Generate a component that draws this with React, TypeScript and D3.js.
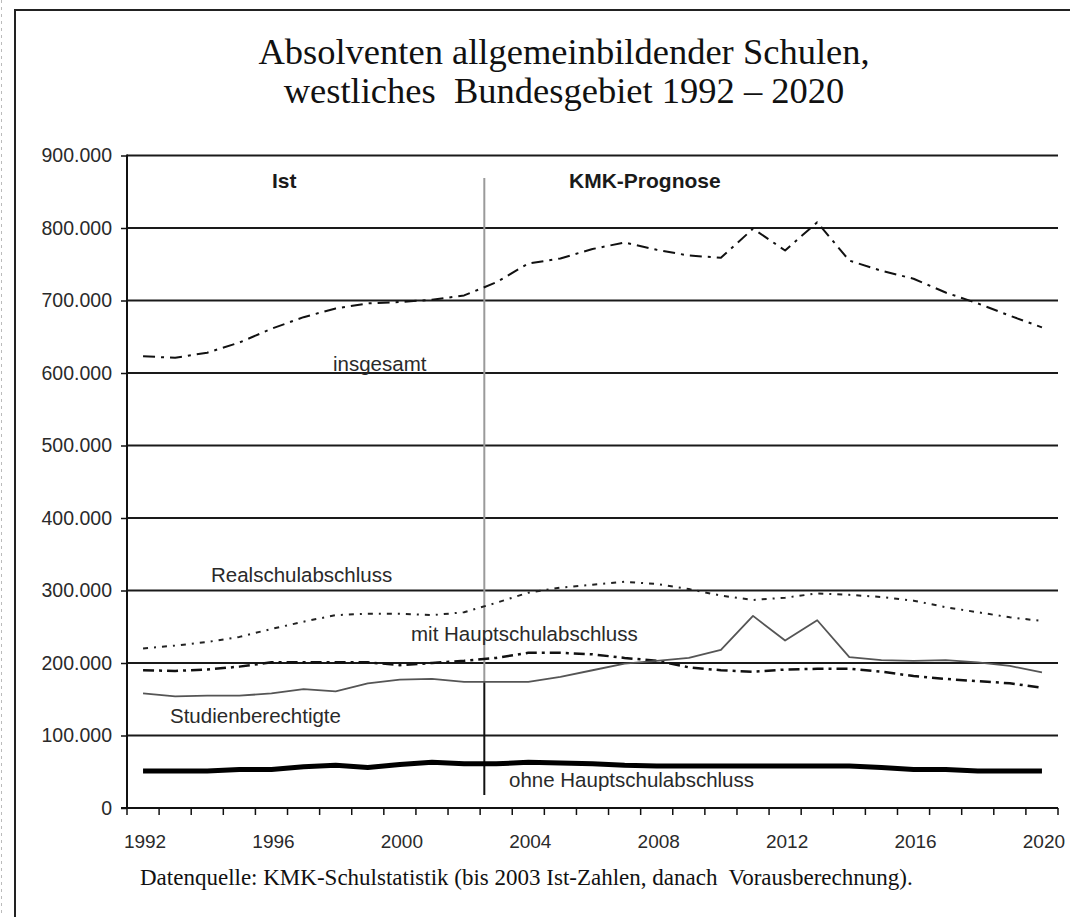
import React, { useEffect, useRef } from "react";
import * as d3 from "d3";

// categories
const years = [
  1992, 1993, 1994, 1995, 1996, 1997, 1998, 1999, 2000, 2001, 2002, 2003, 2004, 2005, 2006,
  2007, 2008, 2009, 2010, 2011, 2012, 2013, 2014, 2015, 2016, 2017, 2018, 2019, 2020,
];

// series (Absolventen)
const insgesamt = [
  623000, 621000, 628000, 642000, 661000, 677000, 689000, 696000, 698000, 701000,
  707000, 725000, 751000, 758000, 771000, 780000, 770000, 762000, 759000, 799000,
  769000, 808000, 755000, 741000, 730000, 711000, 696000, 679000, 663000,
];
const realschul = [
  220000, 224000, 229000, 236000, 247000, 257000, 266000, 268000, 268000, 266000,
  270000, 283000, 297000, 304000, 308000, 312000, 309000, 302000, 293000, 287000,
  290000, 296000, 294000, 291000, 286000, 277000, 270000, 263000, 258000,
];
const mitHaupt = [
  190000, 189000, 191000, 195000, 201000, 201000, 201000, 201000, 197000, 200000,
  203000, 207000, 214000, 214000, 212000, 207000, 203000, 194000, 190000, 188000,
  191000, 192000, 192000, 188000, 182000, 178000, 175000, 172000, 166000,
];
const studien = [
  158000, 154000, 155000, 155000, 158000, 164000, 161000, 172000, 177000, 178000,
  174000, 174000, 174000, 181000, 190000, 199000, 203000, 207000, 218000, 265000,
  231000, 259000, 208000, 204000, 203000, 204000, 201000, 196000, 187000,
];
const ohneHaupt = [
  51000, 51000, 51000, 53000, 53000, 57000, 59000, 56000, 60000, 63000,
  61000, 61000, 63000, 62000, 61000, 59000, 58000, 58000, 58000, 58000,
  58000, 58000, 58000, 56000, 53000, 53000, 51000, 51000, 51000,
];

// tick labels
const yTicks = [0, 100000, 200000, 300000, 400000, 500000, 600000, 700000, 800000, 900000];
const xLabelYears = [1992, 1996, 2000, 2004, 2008, 2012, 2016, 2020];
const prognoseYear = 2003;

const titleLines = ["Absolventen allgemeinbildender Schulen,", "westliches  Bundesgebiet 1992 – 2020"];
const source = "Datenquelle: KMK-Schulstatistik (bis 2003 Ist-Zahlen, danach  Vorausberechnung).";

const sans = "'Liberation Sans', Arial, sans-serif";
const serif = "'Liberation Serif', 'Times New Roman', serif";

export default function App() {
  const ref = useRef<SVGSVGElement>(null);

  useEffect(() => {
    const width = 1070,
      height = 917,
      left = 127,
      right = 1058,
      top = 155.5,
      bottom = 808;

    const svg = d3.select(ref.current);
    svg.selectAll("*").remove();

    const de = d3.formatLocale({ decimal: ",", thousands: ".", grouping: [3], currency: ["", " €"] });
    const fmt = de.format(",");

    const xScale = d3.scaleBand<number>().domain(years).range([left, right]).padding(0);
    const bw = xScale.bandwidth();
    const cx = (yr: number) => (xScale(yr) as number) + bw / 2;
    const yScale = d3.scaleLinear().domain([0, 900000]).range([bottom, top]);

    // frame
    svg.append("line").attr("x1", 1.5).attr("x2", 1.5).attr("y1", 0).attr("y2", height)
      .attr("stroke", "#bbb").attr("stroke-dasharray", "3,4");
    svg.append("path").attr("d", `M15,${height} L15,10 L${width},10`)
      .attr("fill", "none").attr("stroke", "#222").attr("stroke-width", 2);

    // title
    svg.selectAll(".title").data(titleLines).join("text").attr("class", "title")
      .attr("x", 564).attr("y", (d, i) => 64 + i * 39)
      .attr("text-anchor", "middle").style("font-family", serif).style("font-size", "36.5px")
      .style("white-space", "pre").attr("fill", "#111").text((d) => d);

    // grid
    svg.selectAll(".grid").data(yTicks.filter((v) => v > 0)).join("line").attr("class", "grid")
      .attr("x1", left).attr("x2", right).attr("y1", (d) => yScale(d)).attr("y2", (d) => yScale(d))
      .attr("stroke", "#1a1a1a").attr("stroke-width", 2);

    // y axis
    const yAxis = svg.append("g").attr("transform", `translate(${left},0)`)
      .call(d3.axisLeft(yScale).tickValues(yTicks).tickSize(6).tickSizeOuter(0).tickPadding(9).tickFormat((d) => fmt(d as number)));
    yAxis.select(".domain").remove();
    yAxis.selectAll(".tick line").attr("stroke", "#111").attr("stroke-width", 1.5);
    yAxis.selectAll(".tick text").style("font-family", sans).style("font-size", "19.5px").attr("fill", "#2a2a2a");
    svg.append("line").attr("x1", left).attr("x2", left).attr("y1", top - 1).attr("y2", bottom + 1)
      .attr("stroke", "#111").attr("stroke-width", 2);

    // x axis
    const edges = years.map((yr) => xScale(yr) as number).concat([right]);
    svg.selectAll(".xtick").data(edges).join("line").attr("class", "xtick")
      .attr("x1", (d) => d).attr("x2", (d) => d).attr("y1", bottom).attr("y2", bottom + 7)
      .attr("stroke", "#111").attr("stroke-width", 1.5);
    svg.append("line").attr("x1", left - 6).attr("x2", right).attr("y1", bottom).attr("y2", bottom)
      .attr("stroke", "#111").attr("stroke-width", 2);
    svg.selectAll(".xlab").data(xLabelYears).join("text").attr("class", "xlab")
      .attr("x", (d) => cx(d) + 2).attr("y", bottom + 40).attr("text-anchor", "middle")
      .style("font-family", sans).style("font-size", "19px").attr("fill", "#2a2a2a").text((d) => d);

    // divider Ist / Prognose
    const divX = (xScale(prognoseYear) as number) + bw * 0.13;
    svg.append("line").attr("x1", divX).attr("x2", divX).attr("y1", 178).attr("y2", yScale(175000))
      .attr("stroke", "#9a9a9a").attr("stroke-width", 2);
    svg.append("line").attr("x1", divX).attr("x2", divX).attr("y1", yScale(175000)).attr("y2", bottom - 13)
      .attr("stroke", "#111").attr("stroke-width", 2);

    // series
    const series = [
      { values: insgesamt, stroke: "#111", w: 2, dash: "12,6,3,6" },
      { values: realschul, stroke: "#222", w: 2, dash: "5,6,2,6" },
      { values: mitHaupt, stroke: "#111", w: 2.5, dash: "11,5,3,5" },
      { values: studien, stroke: "#555", w: 1.8, dash: null },
      { values: ohneHaupt, stroke: "#000", w: 5, dash: null },
    ];
    const line = d3.line<number>().x((d, i) => cx(years[i])).y((d) => yScale(d));
    svg.selectAll(".series").data(series).join("path").attr("class", "series")
      .attr("d", (d) => line(d.values))
      .attr("fill", "none").attr("stroke", (d) => d.stroke).attr("stroke-width", (d) => d.w)
      .attr("stroke-dasharray", (d) => d.dash).attr("stroke-linejoin", "round");

    // annotations
    const notes = [
      { text: "Ist", x: 272, y: 188, bold: true },
      { text: "KMK-Prognose", x: 569, y: 188, bold: true },
      { text: "insgesamt", x: 333, y: 371, bold: false },
      { text: "Realschulabschluss", x: 211, y: 582, bold: false },
      { text: "mit Hauptschulabschluss", x: 411, y: 641, bold: false },
      { text: "Studienberechtigte", x: 170, y: 723, bold: false },
      { text: "ohne Hauptschulabschluss", x: 509, y: 787, bold: false },
    ];
    svg.selectAll(".note").data(notes).join("text").attr("class", "note")
      .attr("x", (d) => d.x).attr("y", (d) => d.y)
      .style("font-family", sans).style("font-size", (d) => (d.bold ? "21px" : "20.5px"))
      .style("font-weight", (d) => (d.bold ? "bold" : "normal"))
      .attr("fill", (d) => (d.bold ? "#1a1a1a" : "#2a2a2a")).text((d) => d.text);

    // source
    svg.append("text").attr("x", 140).attr("y", 885).style("font-family", serif).style("font-size", "23px")
      .style("white-space", "pre").attr("fill", "#111").text(source);
  }, []);

  return (
    <svg ref={ref} width={1070} height={917} style={{ position: "absolute", left: 0, top: 0, background: "#fff" }} />
  );
}
